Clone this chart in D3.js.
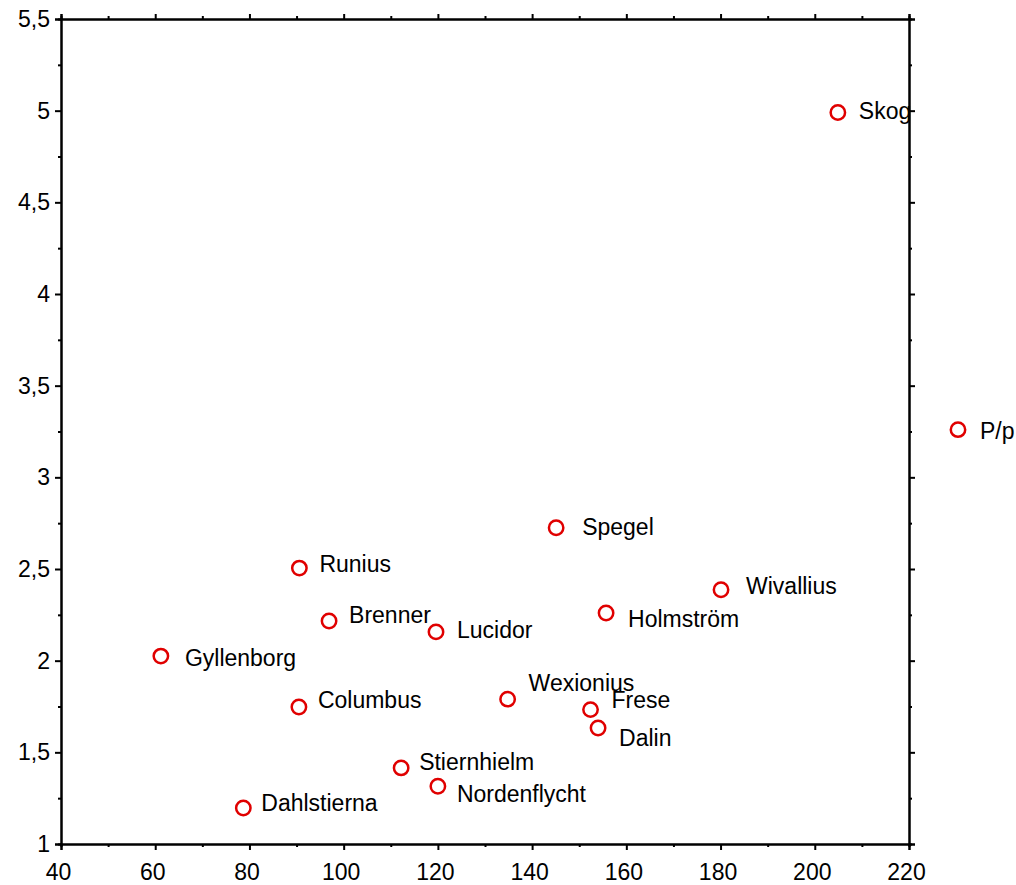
<!DOCTYPE html>
<html>
<head>
<meta charset="utf-8">
<script src="https://cdn.jsdelivr.net/npm/d3@7"></script>
<style>
  body { margin: 0; background: #fff; }
  svg text { font-family: "Liberation Sans", Arial, sans-serif; }
</style>
</head>
<body>
<div id="chart"></div>
<script>
// data
const names = ["Skog", "P/p", "Spegel", "Runius", "Wivallius", "Holmström", "Brenner", "Lucidor",
  "Gyllenborg", "Wexionius", "Columbus", "Frese", "Dalin", "Stiernhielm", "Nordenflycht", "Dahlstierna"];
const xValues = [204.9, 230.4, 145.1, 90.6, 180.1, 155.7, 96.9, 119.6,
  61.2, 134.8, 90.5, 152.4, 154.0, 112.2, 120.0, 78.7];
const yValues = [4.99, 3.26, 2.725, 2.505, 2.387, 2.26, 2.216, 2.157,
  2.025, 1.79, 1.747, 1.733, 1.633, 1.415, 1.315, 1.196];
const xTicks = [40, 60, 80, 100, 120, 140, 160, 180, 200, 220];
const yTicks = [1, 1.5, 2, 2.5, 3, 3.5, 4, 4.5, 5, 5.5];

// label nudges (px) so labels sit like in the original
const labelNudge = {
  "Skog": [21, -2], "P/p": [22, 1], "Spegel": [26, -1], "Runius": [20, -4],
  "Wivallius": [25, -4], "Holmström": [22, 6], "Brenner": [20, -6], "Lucidor": [21, -2],
  "Gyllenborg": [24, 2], "Wexionius": [21, -16], "Columbus": [19, -7], "Frese": [21, -10],
  "Dalin": [21, 10], "Stiernhielm": [18, -6], "Nordenflycht": [19, 7], "Dahlstierna": [18, -5]
};

const width = 1016, height = 885;
const margin = { top: 19, right: 107, bottom: 41, left: 61 };
const fmt = d => String(d).replace(".", ",");

const svg = d3.select("#chart").append("svg")
  .attr("width", width)
  .attr("height", height);

const x = d3.scaleLinear().domain([40, 220]).range([margin.left, width - margin.right]);
const y = d3.scaleLinear().domain([1, 5.5]).range([height - margin.bottom, margin.top]);

const xMinor = d3.range(50, 220, 20);
const yMinor = d3.range(1.25, 5.5, 0.5);

function styleAxis(g) {
  g.select(".domain").attr("stroke", "#000").attr("stroke-width", 2);
  g.selectAll(".tick line").attr("stroke", "#000").attr("stroke-width", 2);
  g.selectAll(".tick text").attr("font-size", 23).attr("fill", "#000");
}

// bottom
svg.append("g").attr("transform", `translate(0,${y(1)})`)
  .call(d3.axisBottom(x).tickValues(xTicks).tickFormat(fmt).tickSizeOuter(0).tickSize(6).tickPadding(14))
  .call(styleAxis)
  .call(g => g.selectAll(".tick text").attr("dx", -3));
svg.append("g").attr("transform", `translate(0,${y(1)})`)
  .call(d3.axisBottom(x).tickValues(xMinor).tickFormat("").tickSizeOuter(0).tickSize(3))
  .call(styleAxis);

// top
svg.append("g").attr("transform", `translate(0,${y(5.5)})`)
  .call(d3.axisTop(x).tickValues(xTicks).tickFormat("").tickSizeOuter(0).tickSize(5))
  .call(styleAxis);
svg.append("g").attr("transform", `translate(0,${y(5.5)})`)
  .call(d3.axisTop(x).tickValues(xMinor).tickFormat("").tickSizeOuter(0).tickSize(3))
  .call(styleAxis);

// left
svg.append("g").attr("transform", `translate(${x(40)},0)`)
  .call(d3.axisLeft(y).tickValues(yTicks).tickFormat(fmt).tickSizeOuter(0).tickSize(6).tickPadding(5))
  .call(styleAxis);
svg.append("g").attr("transform", `translate(${x(40)},0)`)
  .call(d3.axisLeft(y).tickValues(yMinor).tickFormat("").tickSizeOuter(0).tickSize(3))
  .call(styleAxis);

// right
svg.append("g").attr("transform", `translate(${x(220)},0)`)
  .call(d3.axisRight(y).tickValues(yTicks).tickFormat("").tickSizeOuter(0).tickSize(6))
  .call(styleAxis);
svg.append("g").attr("transform", `translate(${x(220)},0)`)
  .call(d3.axisRight(y).tickValues(yMinor).tickFormat("").tickSizeOuter(0).tickSize(3))
  .call(styleAxis);

const pts = names.map((n, i) => ({ name: n, x: xValues[i], y: yValues[i] }));

const pg = svg.append("g").selectAll("g").data(pts).join("g");

pg.append("circle")
  .attr("cx", d => x(d.x))
  .attr("cy", d => y(d.y))
  .attr("r", 7.2)
  .attr("fill", "none")
  .attr("stroke", "#e00000")
  .attr("stroke-width", 2.5);

pg.append("text")
  .attr("x", d => x(d.x) + labelNudge[d.name][0])
  .attr("y", d => y(d.y) + labelNudge[d.name][1])
  .attr("dy", "0.36em")
  .attr("font-size", 23)
  .attr("fill", "#000")
  .text(d => d.name);
</script>
</body>
</html>
